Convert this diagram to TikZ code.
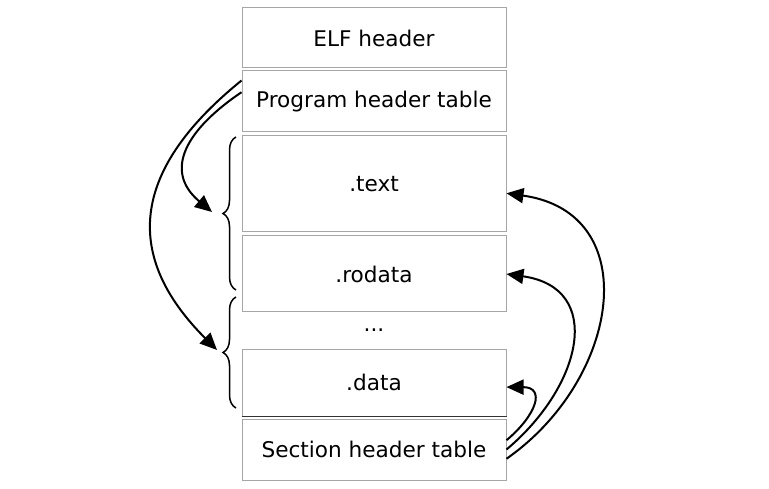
\documentclass[tikz,border=0pt]{standalone}
\usepackage{fontspec}
\setsansfont{DejaVu Sans}
\usetikzlibrary{decorations.pathreplacing, arrows.meta}

\begin{document}
\begin{tikzpicture}[x=1pt, y=1pt,
    sect/.style={draw=black!35, line width=1pt, minimum width=264pt,
        inner sep=0pt, font=\fontsize{21.6}{26}\sffamily},
    link/.style={line width=2pt, -{Triangle[length=17pt,width=15pt]}},
    grp/.style={decorate, decoration={brace, amplitude=13pt}, line width=1.5pt}]
\useasboundingbox (0,0) rectangle (769,488);

\node [sect, minimum height=60pt] (elf)    at (374,450)   {ELF header};
\node [sect, minimum height=61pt] (pht)    at (374,386.5) {Program header table};
\node [sect, minimum height=96pt] (text)   at (374,304)   {.text};
\node [sect, minimum height=76pt] (rodata) at (374,214)   {.rodata};
\node [font=\fontsize{21.6}{26}\sffamily] (dots) at (374,158) {...};
\node [sect, minimum height=67pt] (data)   at (374,105.5) {.data};
\node [sect, minimum height=61pt] (sht)    at (374,38.5)  {Section header table};
\draw [black!80, line width=1pt] (data.south west) -- (data.south east);

% segments
\draw [grp] (236,198) -- (236,351);
\draw [grp] (236,80)  -- (236,191);

\coordinate (seg1) at (212,276);
\coordinate (seg2) at (217,138);

% program header table -> segments
\draw [link] (pht.176) to[out=214, in=140, looseness=1.35] (seg1);
\draw [link] (pht.171) to[out=219, in=135, looseness=1.3] (seg2);

% section header table -> sections
\draw [link] (sht.4)   to[out=40, in=0, looseness=1.9] (data.-2);
\draw [link] (sht.0)   to[out=40, in=-8, looseness=1.45] (rodata.east);
\draw [link] (sht.-4)  to[out=35, in=-8, looseness=1.35] (text.-4);
\end{tikzpicture}
\end{document}
